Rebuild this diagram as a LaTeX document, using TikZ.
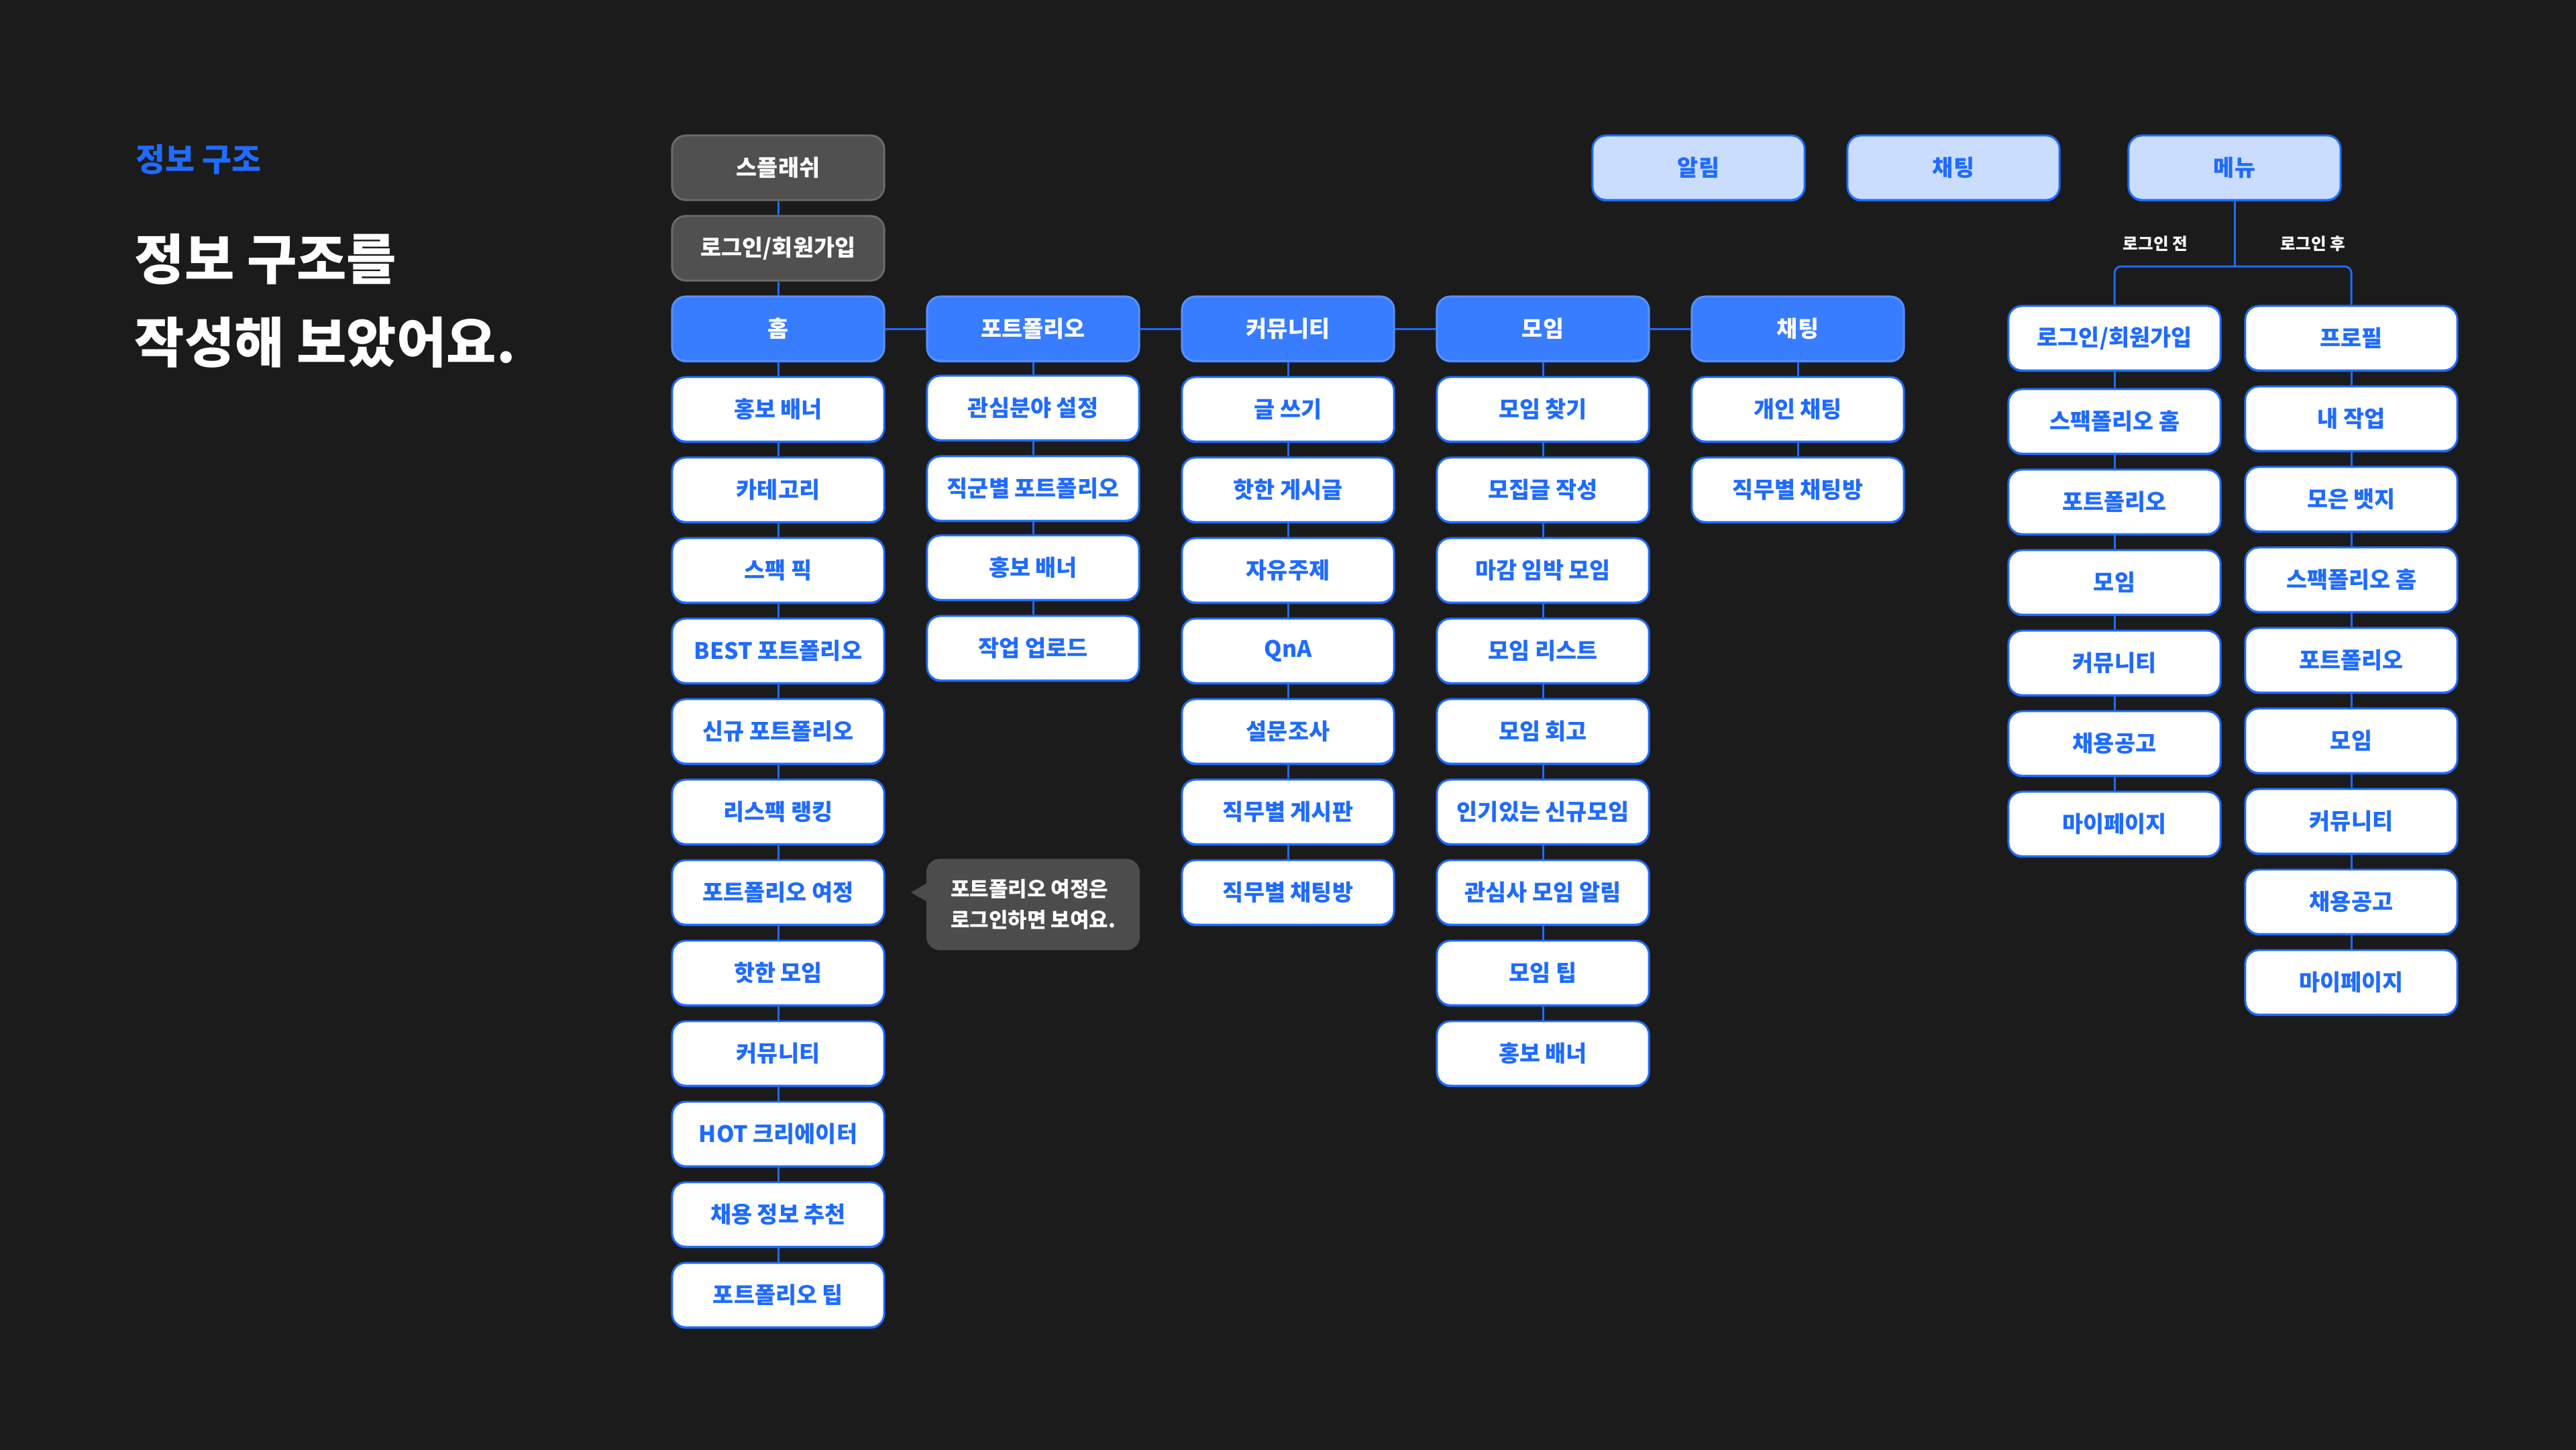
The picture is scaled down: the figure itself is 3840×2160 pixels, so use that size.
\documentclass[tikz,border=0pt]{standalone}
\usepackage{fontspec}
\setmainfont{Noto Sans CJK KR}
\definecolor{bgDark}{HTML}{1B1B1B}
\definecolor{brandBlue}{HTML}{387CFF}
\definecolor{edgeBlue}{HTML}{1F6BFF}
\definecolor{skyBlue}{HTML}{CADDFF}
\definecolor{boxGray}{HTML}{505050}
\definecolor{rimGray}{HTML}{6A6A6A}
\definecolor{tipGray}{HTML}{4C4C4C}
\usetikzlibrary{positioning,calc,shadows}

\tikzset{
  box/.style={rectangle, rounded corners=0.2cm, minimum width=3.16cm,
    minimum height=0.96cm, inner sep=0pt, line width=0.85pt,
    font=\fontsize{9.6}{11}\selectfont\bfseries},
  rim/.style={drop shadow={shadow xshift=0pt, shadow yshift=-0.6pt,
    opacity=1, fill=edgeBlue}},
  greybox/.style={box, fill=boxGray, draw=rimGray, text=white},
  tabbox/.style={box, rim, fill=brandBlue, draw=brandBlue!85!white, text=white},
  pagebox/.style={box, rim, fill=white, draw=edgeBlue, text=edgeBlue},
  topbox/.style={box, rim, fill=skyBlue, draw=edgeBlue, text=edgeBlue},
  link/.style={draw=edgeBlue, line width=0.85pt}
}

\begin{document}
\begin{tikzpicture}[x=0.01cm, y=-0.01cm]
        \useasboundingbox (0,0) rectangle (3840,2160);
        \fill[bgDark] (-10,-10) rectangle (3850,2170);
        % Heading
        \node[anchor=base west, inner sep=0pt, text=edgeBlue, font=\fontsize{13.6}{15}\selectfont\bfseries]
          (heading) at (202,255) {정보 구조};
        \node[anchor=base west, inner sep=0pt, text=white, font=\fontsize{23}{26}\selectfont\bfseries]
          (titleA) at (200,416) {정보 구조를};
        \node[anchor=base west, inner sep=0pt, text=white, font=\fontsize{23}{26}\selectfont\bfseries]
          (titleB) at (200,540) {작성해 보았어요.};
        % Entry pages
        \node[greybox] (splash) at (1160,250) {스플래쉬};
        \node[greybox] (loginTop) at (1160,370) {로그인/회원가입};
        % Tabs
        \node[tabbox] (home) at (1160,490) {홈};
        \node[tabbox] (port) at (1540,490) {포트폴리오};
        \node[tabbox] (comm) at (1920,490) {커뮤니티};
        \node[tabbox] (meet) at (2300,490) {모임};
        \node[tabbox] (chatTab) at (2680,490) {채팅};
        % Home pages
        \node[pagebox] (homeBanner) at (1160,610) {홍보 배너};
        \node[pagebox] (homeCat) at (1160,730) {카테고리};
        \node[pagebox] (homePick) at (1160,850) {스팩 픽};
        \node[pagebox] (homeBest) at (1160,970) {BEST 포트폴리오};
        \node[pagebox] (homeNew) at (1160,1090) {신규 포트폴리오};
        \node[pagebox] (homeRank) at (1160,1210) {리스팩 랭킹};
        \node[pagebox] (homeJourney) at (1160,1330) {포트폴리오 여정};
        \node[pagebox] (homeMeet) at (1160,1450) {핫한 모임};
        \node[pagebox] (homeComm) at (1160,1570) {커뮤니티};
        \node[pagebox] (homeHot) at (1160,1690) {HOT 크리에이터};
        \node[pagebox] (homeJob) at (1160,1810) {채용 정보 추천};
        \node[pagebox] (homeTip) at (1160,1930) {포트폴리오 팁};
        % Portfolio pages
        \node[pagebox] (portField) at (1540,608) {관심분야 설정};
        \node[pagebox] (portJob) at (1540,728) {직군별 포트폴리오};
        \node[pagebox] (portBanner) at (1540,846) {홍보 배너};
        \node[pagebox] (portUpload) at (1540,966) {작업 업로드};
        % Community pages
        \node[pagebox] (commWrite) at (1920,610) {글 쓰기};
        \node[pagebox] (commHot) at (1920,730) {핫한 게시글};
        \node[pagebox] (commFree) at (1920,850) {자유주제};
        \node[pagebox] (commQna) at (1920,970) {QnA};
        \node[pagebox] (commSurvey) at (1920,1090) {설문조사};
        \node[pagebox] (commBoard) at (1920,1210) {직무별 게시판};
        \node[pagebox] (commRoom) at (1920,1330) {직무별 채팅방};
        % Meeting pages
        \node[pagebox] (meetFind) at (2300,610) {모임 찾기};
        \node[pagebox] (meetPost) at (2300,730) {모집글 작성};
        \node[pagebox] (meetDue) at (2300,850) {마감 임박 모임};
        \node[pagebox] (meetList) at (2300,970) {모임 리스트};
        \node[pagebox] (meetReview) at (2300,1090) {모임 회고};
        \node[pagebox] (meetNew) at (2300,1210) {인기있는 신규모임};
        \node[pagebox] (meetAlert) at (2300,1330) {관심사 모임 알림};
        \node[pagebox] (meetTip) at (2300,1450) {모임 팁};
        \node[pagebox] (meetBanner) at (2300,1570) {홍보 배너};
        % Chat pages
        \node[pagebox] (chatPrivate) at (2680,610) {개인 채팅};
        \node[pagebox] (chatRoom) at (2680,730) {직무별 채팅방};
        % Top bar
        \node[topbox] (alarm) at (2532,250) {알림};
        \node[topbox] (chatTop) at (2912,250) {채팅};
        \node[topbox] (menu) at (3331,250) {메뉴};
        % Menu before login
        \node[pagebox] (preLogin) at (3152,504) {로그인/회원가입};
        \node[pagebox] (preHome) at (3152,628) {스팩폴리오 홈};
        \node[pagebox] (prePort) at (3152,748) {포트폴리오};
        \node[pagebox] (preMeet) at (3152,868) {모임};
        \node[pagebox] (preComm) at (3152,988) {커뮤니티};
        \node[pagebox] (preJob) at (3152,1108) {채용공고};
        \node[pagebox] (preMy) at (3152,1228) {마이페이지};
        % Menu after login
        \node[pagebox] (postProfile) at (3505,504) {프로필};
        \node[pagebox] (postWork) at (3505,624) {내 작업};
        \node[pagebox] (postBadge) at (3505,744) {모은 뱃지};
        \node[pagebox] (postHome) at (3505,864) {스팩폴리오 홈};
        \node[pagebox] (postPort) at (3505,984) {포트폴리오};
        \node[pagebox] (postMeet) at (3505,1104) {모임};
        \node[pagebox] (postComm) at (3505,1224) {커뮤니티};
        \node[pagebox] (postJob) at (3505,1344) {채용공고};
        \node[pagebox] (postMy) at (3505,1464) {마이페이지};
        % Links
        \draw[link] (splash) -- (loginTop) -- (home) -- (homeBanner) -- (homeCat) -- (homePick)
          -- (homeBest) -- (homeNew) -- (homeRank) -- (homeJourney) -- (homeMeet) -- (homeComm)
          -- (homeHot) -- (homeJob) -- (homeTip);
        \draw[link] (home) -- (port) -- (comm) -- (meet) -- (chatTab);
        \draw[link] (port) -- (portField) -- (portJob) -- (portBanner) -- (portUpload);
        \draw[link] (comm) -- (commWrite) -- (commHot) -- (commFree) -- (commQna) -- (commSurvey)
          -- (commBoard) -- (commRoom);
        \draw[link] (meet) -- (meetFind) -- (meetPost) -- (meetDue) -- (meetList) -- (meetReview)
          -- (meetNew) -- (meetAlert) -- (meetTip) -- (meetBanner);
        \draw[link] (chatTab) -- (chatPrivate) -- (chatRoom);
        \coordinate (fork) at (3331,397);
        \draw[link] (menu) -- (fork);
        \draw[link, rounded corners=0.1cm] (fork) -| (preLogin);
        \draw[link, rounded corners=0.1cm] (fork) -| (postProfile);
        \draw[link] (preLogin) -- (preHome) -- (prePort) -- (preMeet) -- (preComm) -- (preJob) -- (preMy);
        \draw[link] (postProfile) -- (postWork) -- (postBadge) -- (postHome) -- (postPort) -- (postMeet)
          -- (postComm) -- (postJob) -- (postMy);
        \node[text=white, font=\fontsize{7}{8}\selectfont\bfseries] (labelPre) at (3213,363) {로그인 전};
        \node[text=white, font=\fontsize{7}{8}\selectfont\bfseries] (labelPost) at (3448,363) {로그인 후};
        % Tooltip
        \node[fill=tipGray, rounded corners=0.2cm, minimum width=3.18cm, minimum height=1.36cm,
          align=left, text=white, font=\fontsize{8.8}{13}\selectfont\bfseries]
          (tip) at (1540,1348) {포트폴리오 여정은\\로그인하면 보여요.};
        \coordinate (tipPt) at (1358,1330);
        \fill[tipGray] ($(tip.west)+(2,-32)$) -- (tipPt) -- ($(tip.west)+(2,-4)$) -- cycle;
      \end{tikzpicture}
\end{document}
